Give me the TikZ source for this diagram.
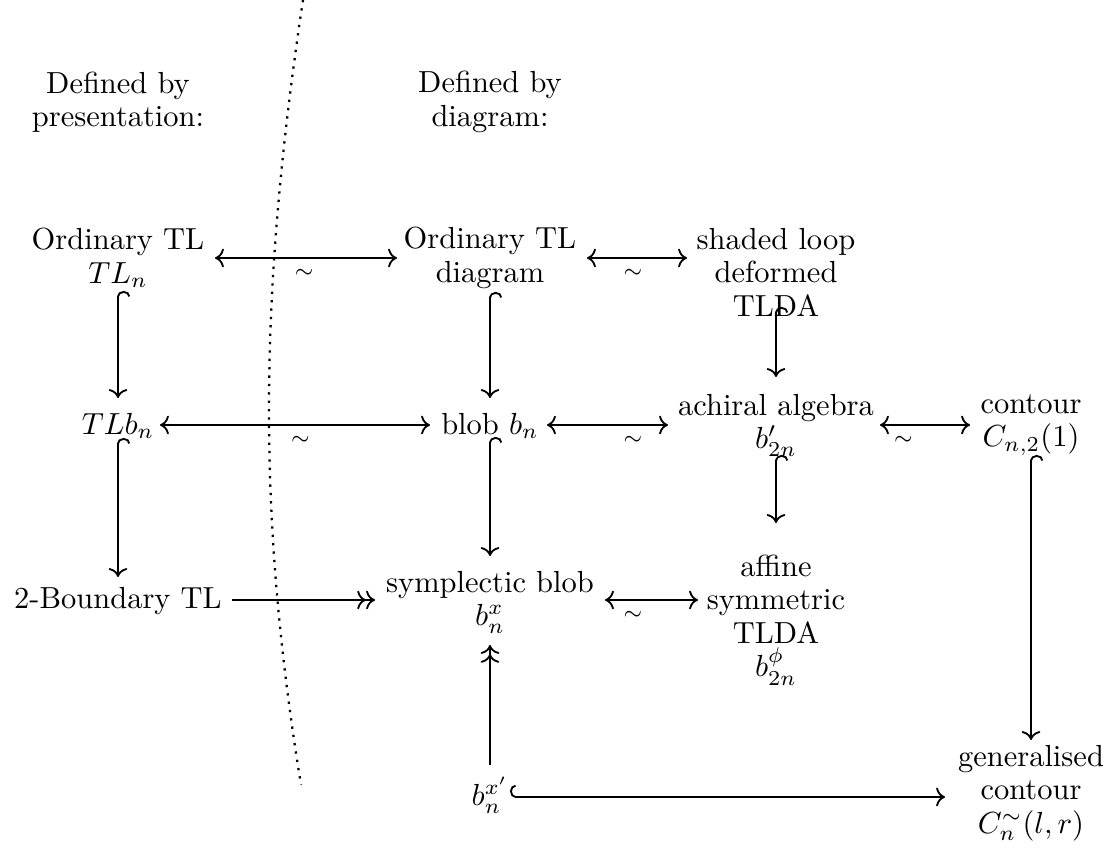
\documentclass[tikz,border=0pt]{standalone}
\usetikzlibrary{arrows.meta,calc}
\begin{document}
\begin{tikzpicture}[x=0.328pt,y=-0.328pt,
  lbl/.style={align=center,inner sep=0pt,outer sep=0pt,font=\fontsize{10}{11}\selectfont},
  ar/.style={line width=0.6pt,>={To}},
  iso/.style={ar,<->},
  inc/.style={ar,arrows={{Hooks[right,width=8pt,length=1.8pt]}-{To}}},
  epi/.style={ar,arrows={-{To[]To[]}}},
  mono/.style={ar,->},
  sim/.style={font=\scriptsize,below,inner sep=3.3pt}]
\useasboundingbox (0,0) rectangle (1120,852);
% dividing curve
\draw[dotted,line width=0.75pt] (303,0) .. controls (258,300) and (258,520) .. (301,785);
% nodes
\node[lbl] (pres) at (118,102) {Defined by\\presentation:};
\node[lbl] (defd) at (490,102) {Defined by\\diagram:};
\node[lbl] (tl)   at (118,258) {Ordinary TL\\$TL_n$};
\node[lbl] (otd)  at (490,258) {Ordinary TL\\diagram};
\node[lbl] (sl)   at (776,272) {shaded loop\\deformed\\TLDA};
\node[lbl] (tlb)  at (118,426) {$TLb_n$};
\node[lbl] (blob) at (490,426) {blob $b_n$};
\node[lbl] (ach)  at (776,425) {achiral algebra\\$b'_{2n}$};
\node[lbl] (con)  at (1031,425) {contour\\$C_{n,2}(1)$};
\node[lbl] (bd)   at (118,601) {2-Boundary TL};
\node[lbl] (symp) at (490,602) {symplectic blob\\$b^x_n$};
\node[lbl] (aff)  at (776,620) {affine\\symmetric\\TLDA\\$b^\phi_{2n}$};
\node[lbl] (bx)   at (490,795) {$b^{x'}_n$};
\node[lbl] (gen)  at (1031,793) {generalised\\contour\\$C^{\sim}_n(l,r)$};
% horizontal connectors
\draw[iso] ($(tl)+(97,0)$) -- node[sim,pos=.49]{$\sim$} ($(otd)+(-93,0)$);
\draw[iso] ($(otd)+(97,0)$) -- node[sim,pos=.46]{$\sim$} ($(sl)+(-89,-14)$);
\draw[iso] ($(tlb)+(42,-1)$) -- node[sim,pos=.52]{$\sim$} ($(blob)+(-60,-1)$);
\draw[iso] ($(blob)+(57,-1)$) -- node[sim,pos=.71]{$\sim$} ($(ach)+(-108,0)$);
\draw[iso] ($(ach)+(104,0)$) -- node[sim,pos=.26]{$\sim$} ($(con)+(-61,0)$);
\draw[epi] ($(bd)+(114,-1)$) -- ($(symp)+(-115,-2)$);
\draw[iso] ($(symp)+(115,-2)$) -- node[sim,pos=.3]{$\sim$} ($(aff)+(-78,-20)$);
\draw[inc] ($(bx)+(20,2)$) -- ($(gen)+(-86,4)$);
% vertical connectors
\draw[inc] ($(tl)+(0,33)$) -- ($(tlb)+(0,-28)$);
\draw[inc] ($(tlb)+(0,12)$) -- ($(bd)+(0,-24)$);
\draw[inc] ($(otd)+(0,34)$) -- ($(blob)+(0,-28)$);
\draw[inc] ($(blob)+(0,11)$) -- ($(symp)+(0,-46)$);
\draw[epi] ($(bx)+(0,-30)$) -- ($(symp)+(0,43)$);
\draw[inc] ($(sl)+(0,35)$) -- ($(ach)+(0,-48)$);
\draw[inc] ($(ach)+(0,30)$) -- ($(aff)+(0,-97)$);
\draw[inc] ($(con)+(0,30)$) -- ($(gen)+(0,-53)$);
\end{tikzpicture}
\end{document}
